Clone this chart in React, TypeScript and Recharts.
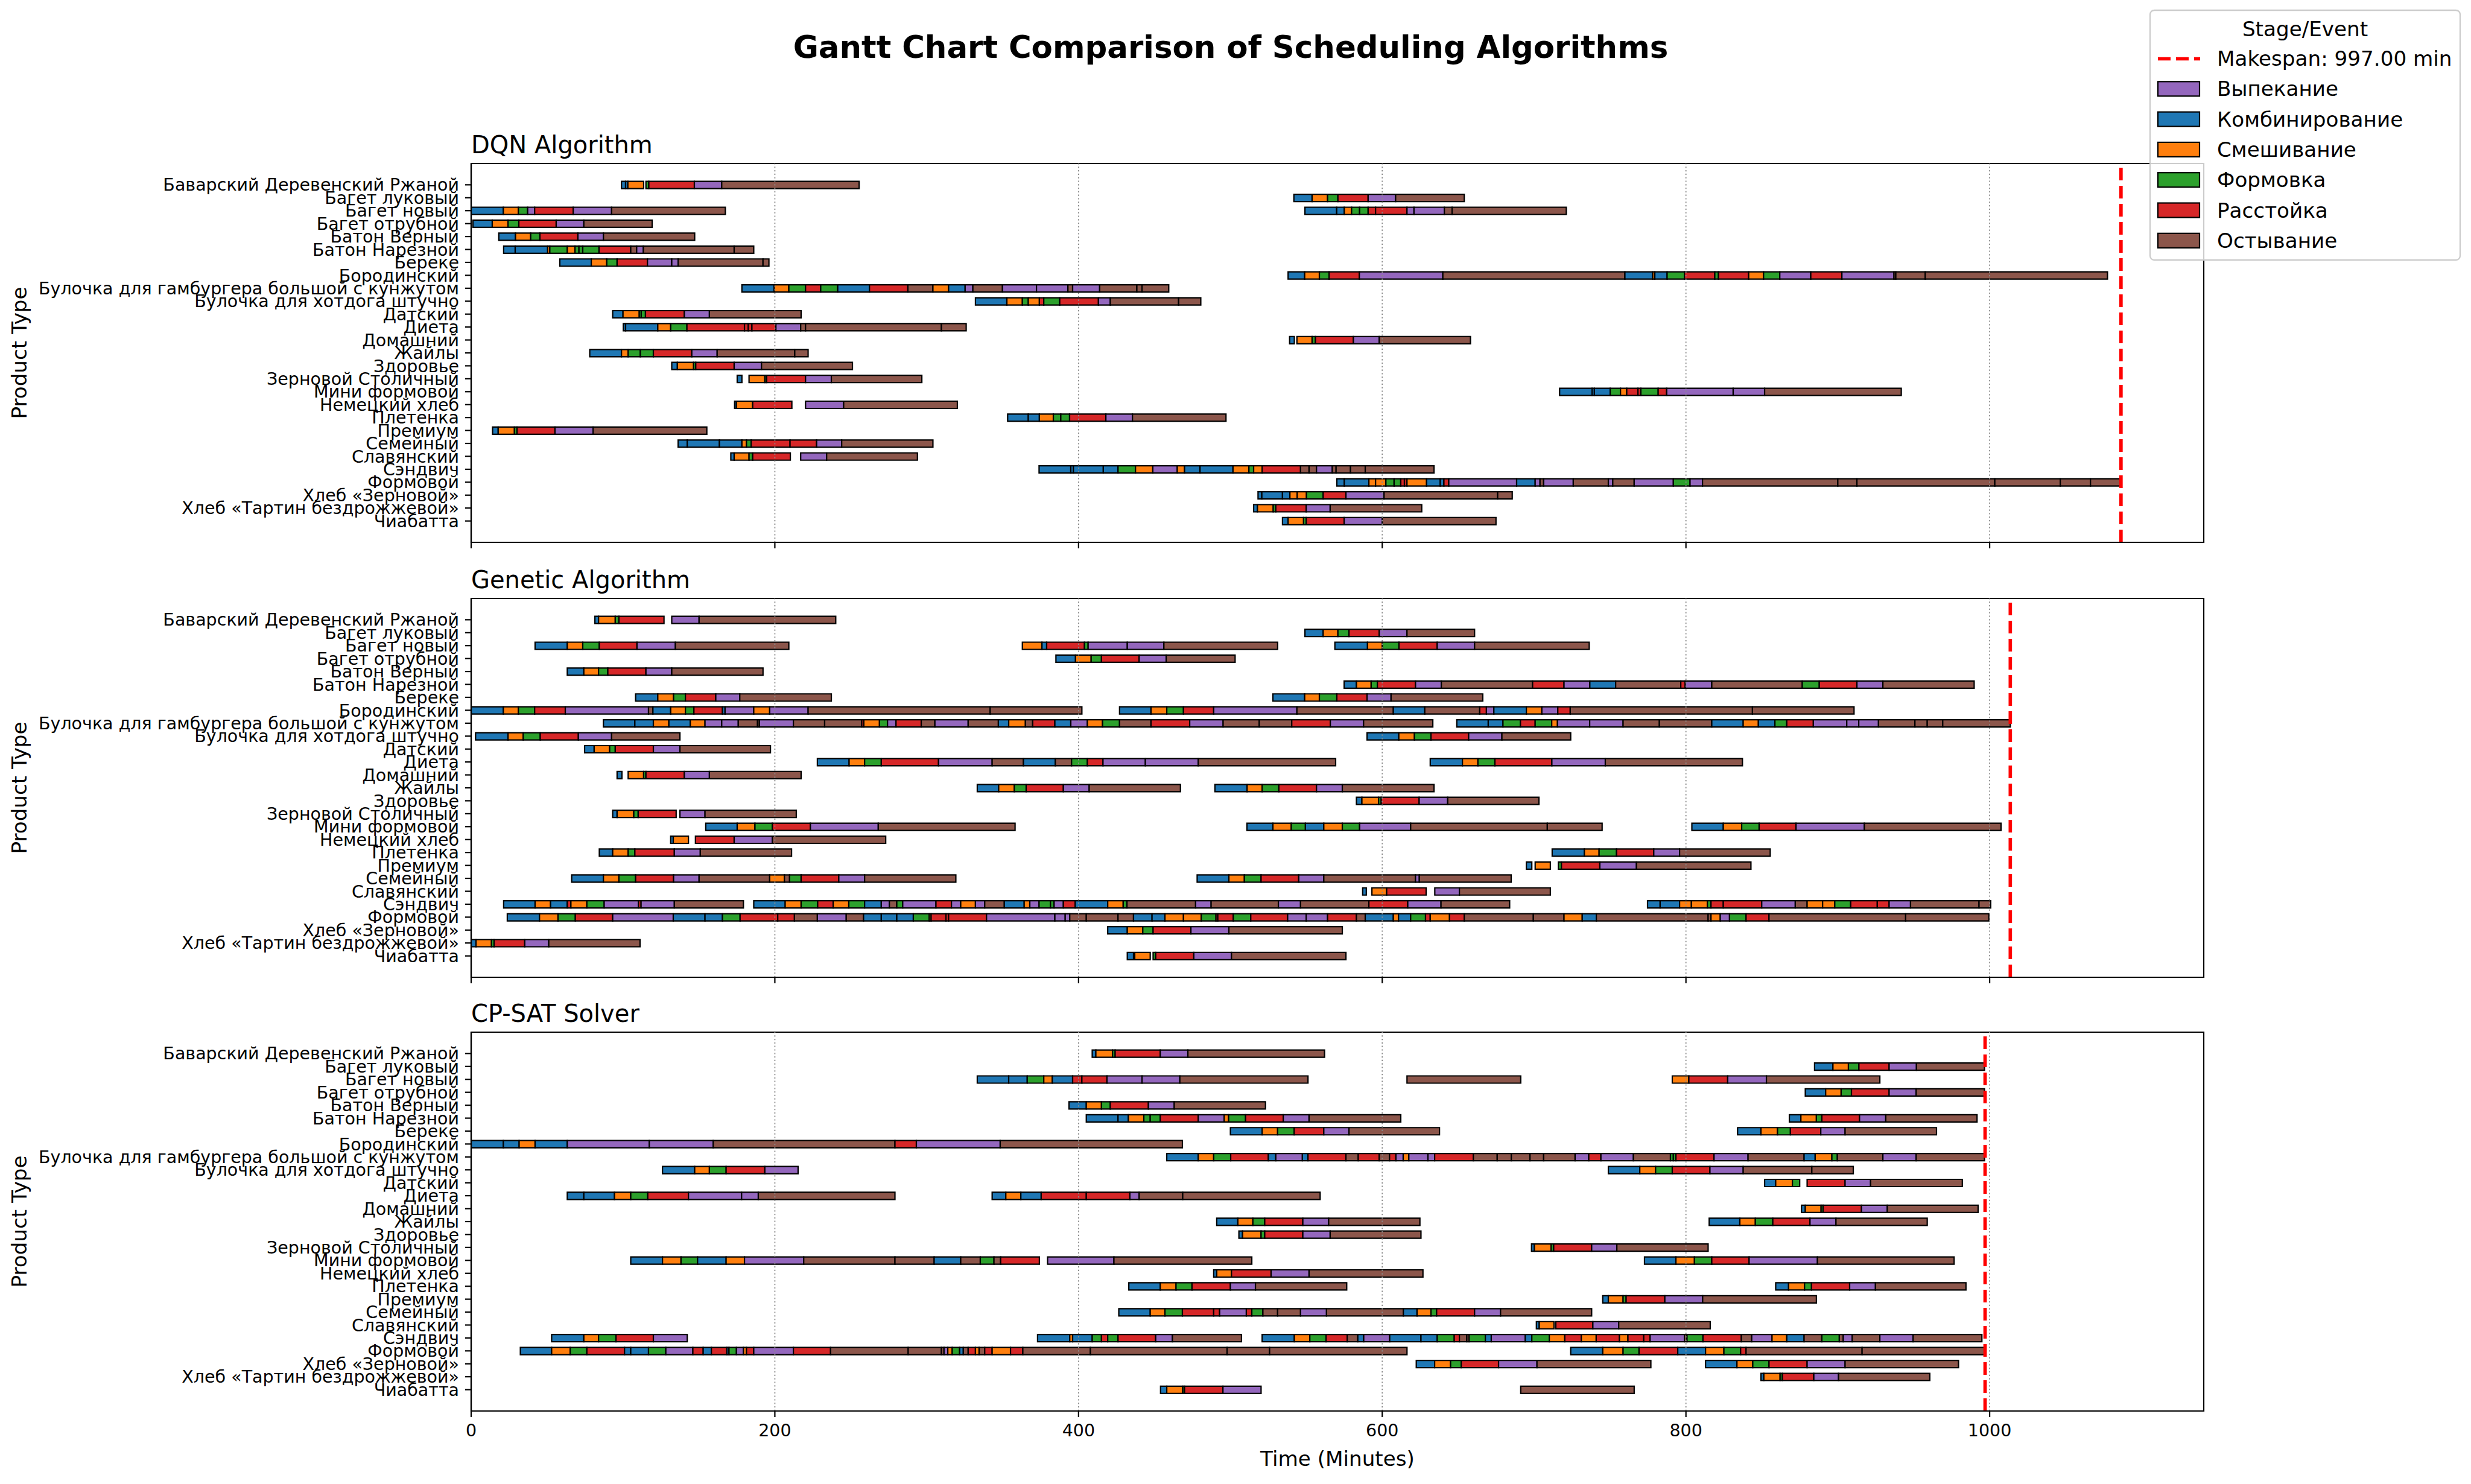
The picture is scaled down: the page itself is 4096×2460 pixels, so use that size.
import React from "react";
import { BarChart, Bar, XAxis, YAxis, ReferenceLine, ReferenceArea, Cell } from "recharts";

const products = [
  "Баварский Деревенский Ржаной", "Багет луковый", "Багет новый", "Багет отрубной", "Батон Верный",
  "Батон Нарезной", "Береке", "Бородинский", "Булочка для гамбургера большой с кунжутом",
  "Булочка для хотдога штучно", "Датский", "Диета", "Домашний", "Жайлы", "Здоровье",
  "Зерновой Столичный", "Мини формовой", "Немецкий хлеб", "Плетенка", "Премиум", "Семейный",
  "Славянский", "Сэндвич", "Формовой", "Хлеб «Зерновой»", "Хлеб «Тартин бездрожжевой»", "Чиабатта",
];

// stage codes: B Комбинирование, O Смешивание, G Формовка, R Расстойка, P Выпекание, C Остывание
const stageNames: Record<string, string> = {
  P: "Выпекание", B: "Комбинирование", O: "Смешивание", G: "Формовка", R: "Расстойка", C: "Остывание",
};
const stageColors: Record<string, string> = {
  P: "#9467bd", B: "#1f77b4", O: "#ff7f0e", G: "#2ca02c", R: "#d62728", C: "#8c564b",
};
const legendOrder = ["P", "B", "O", "G", "R", "C"];
const xTicks = [0, 200, 400, 600, 800, 1000];
const xMax = 1141;
const makespanDQN = 1086.5;
const makespanGA = 1013.6;
const makespanCP = 997;
const makespanLabel = "Makespan: 997.00 min";

// each batch: [row, stage codes, boundaries...]
const dqnBatches: any[] = [
  [0, "BBO", 99, 101.7, 103.2, 113.6], [0, "GRPC", 115.1, 117, 147, 165, 255.5],
  [1, "BOGRPC", 541.8, 553.8, 564, 570.8, 590.7, 608.8, 654],
  [2, "BOGPRPC", 0, 21.2, 31.1, 37.2, 41.8, 67.2, 92.5, 167.4],
  [2, "BBOGGRRPPCC", 549.1, 570, 575, 579.8, 585.1, 590.7, 595.6, 616.3, 620.9, 640.9, 646, 721.2],
  [3, "BOGRPC", 1.2, 13.9, 24.3, 31.4, 56, 74.2, 119.2],
  [4, "BOGRPC", 18.2, 29.2, 39.2, 45.3, 70.3, 87.1, 147.2],
  [5, "BBOGOGGGRCPCC", 21.4, 29, 50.4, 51.8, 63.3, 68.4, 71, 73.5, 84.2, 105.1, 109, 113.4, 173.2, 186.1],
  [6, "BOGRPPCC", 58.4, 79.1, 89.3, 96.1, 116.1, 132.1, 136.3, 192.2, 196.1],
  [7, "BOGRPCBOBGRGROGPRPCCC", 538, 548.9, 558.6, 565, 584.9, 639.9, 759.8, 778.1, 779.5, 787.6, 799, 819, 821.4, 841.3, 851.1, 861.8, 882.2, 902.7, 937, 938.2, 957.6, 1077.6],
  [8, "BOGRGBRCOBPCPPCPCCC", 178.3, 199.5, 209.2, 220.2, 230.2, 241.4, 262.3, 287.6, 304.1, 314.4, 325.3, 330.4, 349.9, 372.3, 393, 396.1, 413.9, 438.4, 441.8, 459.4],
  [9, "BOGORGRPCC", 332.1, 352.8, 363, 366.9, 374.2, 377.1, 387.6, 413.1, 420.9, 465.9, 480.5],
  [10, "BOGGRPC", 93.2, 100, 110.7, 112, 114.8, 140.4, 156.9, 217.3],
  [11, "BBOGRRRRPCCC", 100.2, 101.7, 122.9, 131.4, 142.1, 180, 182.5, 184.9, 200.7, 217, 220.2, 309.7, 326],
  [12, "B", 539, 542.1], [12, "OGRPC", 543.8, 553.8, 556, 581, 598, 658.1],
  [13, "BOGGRPCC", 78.1, 99, 103.4, 111.4, 120, 145.3, 162, 213.1, 221.9],
  [14, "BOGRPC", 132.1, 135.8, 146.5, 147.9, 173.2, 191.2, 251.1],
  [15, "B", 175.2, 178.3], [15, "OGRPC", 183, 193.4, 194.6, 220.2, 237.2, 296.8],
  [16, "BBBGORRGRPPC", 716.8, 738.2, 739.7, 750.1, 756.9, 761, 768.4, 770.3, 781.7, 787.3, 831.1, 851.8, 941.8],
  [17, "BOR", 173.5, 174.7, 185.4, 211.2], [17, "PC", 220.2, 245.3, 320.2],
  [18, "BBOGGRPC", 353.3, 366.9, 374.2, 383.4, 388.3, 394.1, 418, 435.5, 497.1],
  [19, "BOGRPC", 14.1, 17.8, 28.5, 30.2, 55.2, 80.3, 155.2],
  [20, "BBBOGRRPC", 136.3, 142.3, 163.5, 178.3, 181.3, 184.4, 210, 227.5, 244, 304.1],
  [21, "BOGR", 171, 173.2, 183, 185.4, 210.2], [21, "PC", 217, 234.1, 293.9],
  [22, "BBBBGOPOBBOGORCCPCCCC", 374, 394.9, 396.6, 416.3, 426, 437.5, 448.9, 465, 469.8, 480, 501.7, 512.2, 515.3, 520.9, 546.2, 551.8, 556.7, 567.1, 569.6, 579.1, 588.8, 634.1],
  [23, "BBOOGGRROBBRPBPCPCPCPGPCCCCCC", 570.1, 575, 591.2, 595.6, 602.4, 607.8, 612.2, 614.6, 616.3, 629.2, 638.2, 640.6, 643.8, 688.5, 700.7, 703.9, 706.3, 725.8, 748.9, 751.8, 765.9, 791.7, 802.7, 810.9, 900, 912.6, 1003.4, 1046.5, 1066.4, 1086.1],
  [24, "BBBOOGRPCC", 518.2, 520.7, 534.3, 539.2, 544, 550.1, 561.1, 576.1, 601.2, 676, 685.6],
  [25, "BOGRPC", 515.3, 517.8, 528.2, 529.9, 549.9, 565.7, 626],
  [26, "BOGRPC", 534.3, 538, 548.2, 549.9, 574.9, 600, 674.9],
];

const gaBatches: any[] = [
  [0, "BOGR", 81.5, 83.9, 94.9, 97.3, 127], [0, "PC", 132.1, 150.1, 240.1],
  [1, "BOGRPC", 549.1, 561.1, 570.8, 578.1, 598, 616.3, 660.8],
  [2, "BOGRPC", 42.1, 63.3, 73.5, 84.4, 109.2, 134.5, 209.2],
  [2, "OBRGPPC", 363, 375.9, 379, 403.9, 406.3, 432.1, 456.2, 531.1],
  [2, "BOGRPC", 568.8, 590.3, 600, 611, 636.2, 660.8, 736.3],
  [3, "BOGRPC", 385.1, 398, 408.3, 415.1, 439.9, 457.7, 503.1],
  [4, "BOGRPC", 63.3, 74.2, 83.9, 90, 115.1, 132.1, 192.2],
  [5, "BOGRPCRPBCRPCGRPC", 574.9, 583, 592.7, 596.8, 621.9, 638.9, 699, 719.7, 736.7, 753.7, 796.6, 799.5, 817, 876.6, 887.8, 912.6, 929.7, 989.8],
  [6, "BOGRPC", 108.3, 122.9, 133.3, 141.1, 161.1, 176.9, 237.2],
  [6, "BOGRPC", 528, 548.9, 558.6, 570.1, 590, 605.8, 666.2],
  [7, "BOGRPCBOGRBPOPCC", 0, 21.2, 31.1, 41.8, 62, 116.8, 119.7, 131.4, 141.1, 146.7, 165.5, 167.2, 186.1, 196.6, 221.9, 341.8, 402.2],
  [7, "BOGRPCBCRPBOPRCC", 427, 447.7, 458.1, 469.1, 489, 543.8, 607.3, 628, 664.2, 668.6, 673.5, 694.9, 705.1, 715.6, 723.8, 843.8, 910.7],
  [8, "BBOBOPPCCPCCROGPRCPCBOCRBPOGCRPCCRPC", 87.1, 107.8, 120, 130.2, 144.3, 154, 165, 175.9, 188.6, 189.8, 212.2, 232.8, 257.2, 258.6, 268.9, 274.2, 279.8, 296.4, 305.4, 327.3, 347.2, 354, 365, 369.8, 384.4, 394.9, 405.8, 415.8, 427, 447.7, 473.2, 495.2, 519, 540.4, 565.8, 587.7, 633.3],
  [8, "BBGRGOPPCCBOBGRPPPCCCC", 649.1, 669.8, 679.5, 691, 700.7, 711.6, 715.4, 736.6, 758.6, 782.5, 817, 837.7, 847.7, 858.6, 866.4, 883.9, 905.9, 913.8, 926.8, 950.8, 958.9, 969.1, 1013.6],
  [9, "BOGRPC", 2.9, 24.3, 34.3, 45.5, 70.6, 92.5, 137.5],
  [9, "BOGRPC", 590, 610.9, 621.2, 632.1, 656.9, 678.8, 724.1],
  [10, "BOGRPC", 74.7, 81, 91.2, 94.9, 120, 137.5, 197.1],
  [11, "BOGRPCBCGRPPC", 228, 248.9, 259.1, 270.1, 307.8, 343.1, 363.7, 384.7, 395.4, 405.8, 416.1, 444, 478.8, 569.3],
  [11, "BOGRPC", 631.6, 652.8, 663, 674.2, 711.7, 746.9, 837.2],
  [12, "B", 96.1, 99.3], [12, "OGRPC", 103.4, 113.6, 115.1, 140.4, 156.9, 217.3],
  [13, "BOGRPC", 333.3, 347.4, 357.7, 365.5, 390, 407, 467.1],
  [13, "BOGRPC", 489.8, 511, 520.9, 531.9, 556.7, 573.7, 634.1],
  [14, "BOGRPC", 583, 586.6, 597.6, 599.3, 624.3, 643.1, 703.2],
  [15, "BOGR", 93.2, 96.1, 107.1, 110, 135], [15, "PC", 137.5, 154, 214.1],
  [16, "BOGRPC", 154.5, 175.2, 186.9, 198.3, 223.4, 268.1, 358.2],
  [16, "BOGBOGPCC", 510.9, 528, 540.1, 549.4, 561.5, 573.7, 585.1, 618.7, 708.7, 744.8],
  [16, "BOGRPC", 803.9, 824.6, 836.7, 848.2, 872.5, 917.5, 1007.5],
  [17, "BO", 131.4, 133.1, 143.1], [17, "RPC", 147.7, 173.2, 198.3, 273],
  [18, "BOGRPC", 84.4, 93.2, 103.4, 107.8, 133.8, 150.9, 211],
  [18, "BOGRPC", 711.9, 733.1, 742.8, 754.3, 778.8, 795.8, 855.5],
  [19, "B", 694.9, 698.5], [19, "O", 700.7, 710.7], [19, "GRPC", 716, 718, 743.3, 767.4, 842.8],
  [20, "BOGRPCOCGRPC", 66.2, 87.1, 97.3, 108.3, 133.3, 150.1, 196.6, 206.3, 209.7, 217.3, 242.1, 259.1, 319.2],
  [20, "BOGRPCPC", 478.1, 499, 509.2, 520.2, 545, 561.5, 621.9, 624.4, 684.9],
  [21, "B", 587.1, 589.5], [21, "OR", 593.2, 602.9, 628.9], [21, "PC", 634.6, 650.8, 710.7],
  [22, "BOBROGPRPC", 21.4, 42.1, 52.3, 63.3, 65.7, 76.2, 87.6, 110.2, 111.9, 133.8, 179.3],
  [22, "BOGROGBPCGPRPOPCBOPGGPRBOGCPCPCRPC", 186.1, 206.8, 217.3, 228.2, 238.4, 248.7, 259.1, 270.1, 275.4, 280.3, 284.2, 306.1, 316.3, 322.4, 332.1, 338.2, 351.1, 364.2, 367.9, 374, 381.5, 383.9, 390, 397.8, 419.2, 429.4, 431.9, 477.1, 487.3, 531.6, 546.2, 591.2, 616.8, 638.7, 683.9],
  [22, "BBOOGRRPCOOGRRPCC", 774.7, 783, 795.8, 803.6, 814.1, 816.5, 824.6, 849.9, 872, 879.8, 890, 898, 908.5, 926, 933.8, 947.9, 993, 1000.7],
  [23, "BOGRPBBGRRCPCBBBGORRRPPPCCCBBOOGRRGRPPRCBOBGRORCCOBCCOPGRCC", 23.8, 45, 57.2, 68.6, 93.2, 133.1, 154, 165.5, 177.1, 201.9, 212.9, 228, 247, 258.4, 270.1, 280.3, 291.2, 301.7, 302.9, 312.7, 314.4, 339.4, 384.4, 391.2, 394.2, 405.1, 426, 436.2, 448.4, 456.9, 469.1, 480.8, 490.5, 491.7, 501.9, 513.4, 537.7, 549.9, 564, 583, 588.8, 607.3, 610.7, 618.7, 628.5, 631.6, 644.3, 654, 699.5, 719.7, 731.7, 741, 814.6, 816.5, 822.6, 828.7, 839.6, 854.7, 944.7, 999.5],
  [24, "BOGRPC", 419.2, 432.1, 442.3, 449.1, 474, 499, 573.7],
  [25, "BOGRPC", 0, 3.2, 13.4, 15.1, 35.3, 51.1, 111.2],
  [26, "B", 432.1, 436.2], [26, "O", 437, 447.2], [26, "GRPC", 449.1, 450.8, 475.9, 500.7, 576.1],
];

const cpBatches: any[] = [
  [0, "BOGRPC", 409, 411.4, 422.4, 424.1, 453.8, 472, 562],
  [1, "BOGRPC", 884.7, 896.8, 907, 913.9, 933.8, 951.8, 996.6],
  [2, "BBGOBRRPPC", 333.3, 354, 366.2, 377.1, 382.7, 396.1, 402.2, 418.7, 441.8, 466.7, 551.1],
  [2, "C", 616.3, 691.2], [2, "ORPC", 791, 801.9, 827.5, 853, 927.7],
  [3, "BOGRPC", 878.6, 892, 902.2, 909, 933.8, 951.6, 996.6],
  [4, "BOGRPC", 393.7, 405.1, 415.1, 420.9, 446, 463, 523.1],
  [5, "BBOGGRPOGRPC", 405.1, 426, 432.8, 443, 447.2, 453.8, 478.8, 495.9, 498.8, 510, 534.8, 551.8, 612.2],
  [5, "BOGRPC", 868.1, 875.7, 885.9, 889.5, 914.3, 931.6, 991.7],
  [6, "BOGRPC", 500, 520.9, 531.1, 542, 561.5, 578.1, 637.7],
  [6, "BOGRPC", 834, 849.4, 860.3, 868.8, 888.8, 904.8, 965],
  [7, "BBOBPPCRPC", 0, 21.2, 31.6, 42.1, 63.3, 117.3, 159.4, 279.1, 293.2, 348.4, 468.4],
  [8, "BOGRBPBRCRCRPOPPRCCCCCPRPCGGRPCBOGCPC", 458.1, 478.8, 489, 500.2, 525, 529.9, 547.4, 551.1, 576.1, 584.2, 598, 604.8, 609, 613.8, 617.5, 630.1, 634.5, 660, 675.7, 685, 697.3, 706.3, 727, 736, 744, 765.4, 789.8, 791.7, 793.4, 818.5, 840.9, 877.8, 885.1, 896.1, 899.7, 929.7, 951.6, 996.6],
  [9, "BOGRP", 126, 147.2, 156.9, 167.9, 193.4, 215.3],
  [9, "BOGRPCC", 748.9, 769.6, 780, 791, 815.8, 837.7, 882.9, 910.2],
  [10, "BOG", 851.8, 859.1, 870.1, 874.9], [10, "RPC", 879.8, 904.8, 921.6, 982],
  [11, "BBOGRPPC", 63.3, 74.2, 94.4, 105.1, 116.3, 143.1, 178.1, 189.1, 279.1],
  [11, "BOBRRPCC", 343.1, 352.1, 362, 375.4, 405.1, 433.8, 439.9, 468.6, 559.1],
  [12, "BOGRPC", 876.1, 878.6, 889, 890.3, 915.6, 932.6, 992.4],
  [13, "BOGRPC", 491, 504.9, 514.8, 522.6, 547.7, 564.7, 624.8],
  [13, "BOGRPC", 815.3, 835.5, 845.7, 857.2, 881.7, 898.8, 958.9],
  [14, "BOGRPC", 505.6, 508, 520.2, 522.6, 547.7, 565.7, 625.5],
  [15, "BOGRPC", 698.3, 700.2, 711.2, 712.9, 737.9, 754.5, 814.6],
  [16, "BOGBOPCCBCGCR", 105.1, 126, 138.2, 149.1, 167.9, 180, 219, 279.1, 304.9, 322.4, 335.3, 344.3, 348.7, 374.2],
  [16, "PC", 379.6, 423.3, 514.1],
  [16, "BOGRPC", 772.7, 793.4, 805.6, 817, 841.6, 886.6, 976.6],
  [17, "BORPC", 489, 491, 500.7, 526.8, 551.8, 626.8],
  [18, "BOGRPC", 433.1, 453.8, 464.2, 474.7, 500, 516.5, 576.6],
  [18, "BOGRPC", 859.1, 867.6, 878.1, 882.7, 907.8, 924.8, 984.4],
  [19, "BOGRPC", 745.2, 748.9, 758.6, 760.6, 786.1, 811, 885.9],
  [20, "BOGRRPRGCCPCBOGRPC", 426.5, 447.2, 456.9, 468.4, 489, 492.9, 510.5, 514.1, 521.4, 531.1, 546.2, 563.3, 613.9, 622.9, 632.1, 635.8, 660.8, 677.9, 737.9],
  [21, "BO", 701.5, 703.4, 713.1], [21, "RPC", 714.3, 738.7, 755.7, 816],
  [22, "BOGRP", 53, 74.2, 83.9, 95.4, 120, 142.3],
  [22, "BOBGRGRPC", 373, 394.2, 396.1, 409, 415.1, 419.2, 426, 450.8, 461.8, 507.3],
  [22, "BOGRCBPBBGRCCGBPBGORORORRPCGRCPOBCGCPCPC", 520.9, 542.1, 552.3, 563, 576.9, 583.9, 587.8, 604.9, 625.5, 636.2, 647.4, 650.8, 655.7, 657.2, 667.9, 671.8, 694.2, 698.5, 710, 720.2, 731.1, 740.9, 756.2, 761.8, 772.2, 776.4, 799, 800.7, 811.2, 836.5, 843.3, 856.7, 866.4, 877.8, 889.5, 901, 903.6, 909.5, 927.7, 949.6, 994.9],
  [23, "BOGRBBGPRBRBGPORPRCCCPOGBCROCRORCCCC", 32.4, 53, 65.2, 76.2, 101, 105.1, 116.8, 128.2, 146, 152.8, 158.2, 168.4, 169.8, 174.7, 179.3, 181.3, 186.1, 212.2, 236.7, 287.8, 309.7, 311.4, 313.9, 316.8, 321.7, 324.1, 327.3, 332.1, 334.5, 338.2, 343.1, 355.2, 363.3, 407.8, 497.8, 525.8, 616.3],
  [23, "BOGRBOGRCC", 724.1, 745.2, 758.6, 769.1, 794.6, 812.9, 825, 836, 839.6, 916, 996.6],
  [24, "BOGRPC", 622.4, 634.5, 645, 652, 676.6, 701.9, 776.9],
  [24, "BOGRPC", 812.9, 833.6, 844, 854.7, 879.8, 904.8, 979.5],
  [25, "BOGRPC", 849.4, 851.3, 862, 863.5, 884.2, 900.5, 960.6],
  [26, "BOGRP", 454, 458.1, 468.6, 469.8, 495.1, 520.2], [26, "C", 691.2, 765.9],
];

type Seg = { row: number; range: [number, number]; stage: string };
function toSegments(batches: any[]): Seg[] {
  const out: Seg[] = [];
  batches.forEach((b) => {
    const row = b[0] as number;
    const codes = b[1] as string;
    const t = b.slice(2) as number[];
    for (let i = 0; i < codes.length && i + 1 < t.length; i++) {
      out.push({ row, range: [t[i], t[i + 1]], stage: codes[i] });
    }
  });
  return out;
}

const FONT = "DejaVu Sans";
const PLOT_H = 628;
const Y_DOMAIN: [number, number] = [-1.65, 27.65];
const rowTicks = products.map((_, i) => i);

function Panel({ batches, makespan, top, showLabels }: { batches: any[]; makespan: number; top: number; showLabels: boolean }) {
  const data = toSegments(batches);
  const axisH = showLabels ? 70 : 14;
  return (
    <div style={{ position: "absolute", left: 0, top: top - 4 }}>
      <BarChart
        layout="vertical"
        width={3700}
        height={4 + PLOT_H + axisH}
        data={data}
        margin={{ top: 4, right: 47, left: 0, bottom: 0 }}
      >
        <XAxis
          type="number"
          domain={[0, xMax]}
          ticks={xTicks}
          interval={0}
          allowDataOverflow
          height={axisH}
          tickSize={10}
          tickMargin={12}
          axisLine={{ stroke: "#000", strokeWidth: 2.2 }}
          tickLine={{ stroke: "#000", strokeWidth: 2.2 }}
          tick={{ fill: "#000", fontSize: 28.5, fontFamily: FONT }}
          tickFormatter={(v: number) => (showLabels ? String(v) : "")}
        />
        <YAxis
          type="number"
          dataKey="row"
          domain={Y_DOMAIN}
          allowDataOverflow
          ticks={rowTicks}
          interval={0}
          width={781}
          tickSize={10}
          tickMargin={10}
          axisLine={{ stroke: "#000", strokeWidth: 2.2 }}
          tickLine={{ stroke: "#000", strokeWidth: 2.2 }}
          tick={{ fill: "#000", fontSize: 28.5, fontFamily: FONT }}
          tickFormatter={(v: number) => products[v] ?? ""}
        />
        <Bar dataKey="range" barSize={12} isAnimationActive={false} stroke="#000" strokeWidth={2.2}>
          {data.map((d, i) => (
            <Cell key={i} fill={stageColors[d.stage]} />
          ))}
        </Bar>
        {xTicks.slice(1).map((t) => (
          <ReferenceLine key={t} x={t} stroke="#8a8a8a" strokeWidth={1.8} strokeDasharray="2.2 3.6" />
        ))}
        <ReferenceArea x1={0} x2={xMax} y1={Y_DOMAIN[0]} y2={Y_DOMAIN[1]} fill="none" fillOpacity={0} stroke="#000" strokeWidth={2.2} ifOverflow="visible" />
        <ReferenceLine x={makespan} stroke="#ff0000" strokeWidth={5.7} strokeDasharray="21 9" />
      </BarChart>
    </div>
  );
}

const panels = [
  { title: "DQN Algorithm", batches: dqnBatches, makespan: makespanDQN, top: 271 },
  { title: "Genetic Algorithm", batches: gaBatches, makespan: makespanGA, top: 992 },
  { title: "CP-SAT Solver", batches: cpBatches, makespan: makespanCP, top: 1711 },
];

export default function App() {
  const legendRows = [109, 159.3, 209.6, 259.9, 310.2, 360.5, 410.8];
  return (
    <div style={{ position: "absolute", left: 0, top: 0, width: 4096, height: 2460, background: "#fff", overflow: "hidden" }}>
      {panels.map((p, i) => (
        <Panel key={p.title} batches={p.batches} makespan={p.makespan} top={p.top} showLabels={i === 2} />
      ))}
      <svg width={4096} height={2460} style={{ position: "absolute", left: 0, top: 0, pointerEvents: "none" }} fontFamily={FONT}>
        <text x={2040} y={96} textAnchor="middle" fontSize={51.4} fontWeight="bold" fill="#000">
          Gantt Chart Comparison of Scheduling Algorithms
        </text>
        {panels.map((p) => (
          <g key={p.title}>
            <text x={781} y={p.top - 17} fontSize={40} fill="#000">{p.title}</text>
            <text
              x={44}
              y={p.top + PLOT_H / 2}
              fontSize={34.2}
              fill="#000"
              textAnchor="middle"
              transform={`rotate(-90 44 ${p.top + PLOT_H / 2})`}
            >
              Product Type
            </text>
          </g>
        ))}
        <text x={2217} y={2430} textAnchor="middle" fontSize={34.2} fill="#000">Time (Minutes)</text>
        <g>
          <rect x={3564} y={17} width={514} height={414} rx={7} ry={7} fill="#fff" fillOpacity={0.8} stroke="#cccccc" strokeWidth={2.3} />
          <text x={3821} y={59.6} textAnchor="middle" fontSize={34.2} fill="#000">Stage/Event</text>
          <line x1={3577} x2={3647} y1={legendRows[0] - 11.5} y2={legendRows[0] - 11.5} stroke="#ff0000" strokeWidth={5.7} strokeDasharray="21 9" />
          <text x={3675} y={legendRows[0]} fontSize={34.2} fill="#000">{makespanLabel}</text>
          {legendOrder.map((s, i) => (
            <g key={s}>
              <rect x={3577} y={legendRows[i + 1] - 24} width={69} height={24} fill={stageColors[s]} stroke="#000" strokeWidth={2.2} />
              <text x={3675} y={legendRows[i + 1]} fontSize={34.2} fill="#000">{stageNames[s]}</text>
            </g>
          ))}
        </g>
      </svg>
    </div>
  );
}
